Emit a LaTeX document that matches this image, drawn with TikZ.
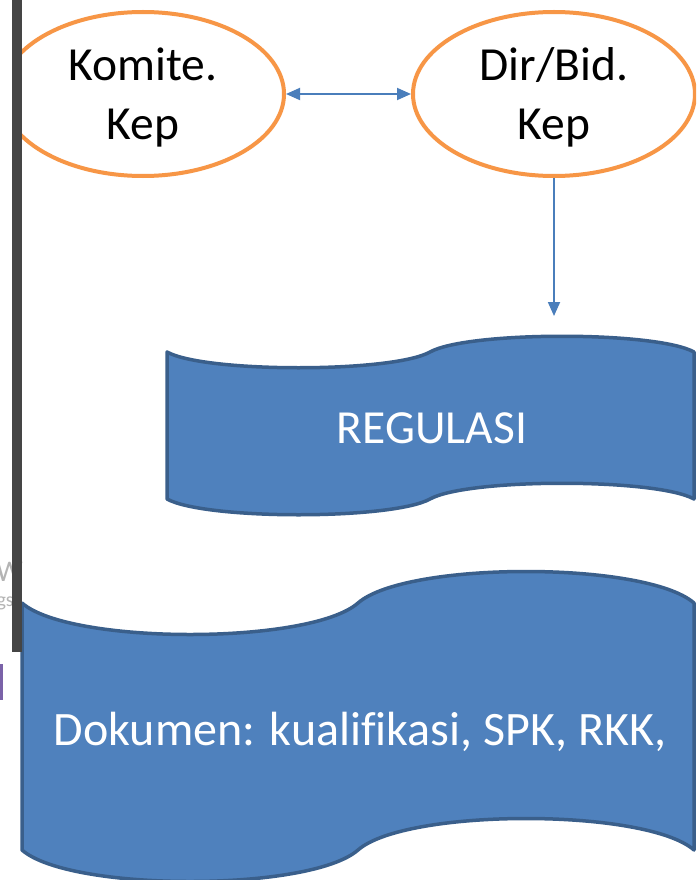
\documentclass[tikz,border=0pt]{standalone}
\usepackage{fontspec}
\setmainfont{Carlito}[Ligatures=NoCommon]
\usetikzlibrary{shapes.geometric,arrows.meta}
\definecolor{ringorange}{HTML}{F79646}
\definecolor{linkblue}{HTML}{4A7EBB}
\definecolor{wavefill}{HTML}{4F81BD}
\definecolor{waveedge}{HTML}{3A5F8B}
\definecolor{sidebar}{HTML}{454545}
\definecolor{ghost}{HTML}{B4B4B4}
\definecolor{tilepurple}{HTML}{7A62A8}
\begin{document}
\begin{tikzpicture}[x=1pt,y=-1pt,
  role/.style={ellipse,draw=ringorange,line width=4pt,fill=white,
    minimum width=282pt,minimum height=164pt,inner sep=0pt},
  roletext/.style={align=center,inner sep=0pt,text=black,
    font=\fontsize{47.5}{59}\selectfont},
  link/.style={draw=linkblue,line width=1.8pt,
    arrows={-Triangle[length=14pt,width=12pt]}},
  banner/.style={fill=wavefill,draw=waveedge,line width=3.5pt,line join=round},
  bannertext/.style={text=white,inner sep=0pt}]
\useasboundingbox (0,0) rectangle (696,880);
\fill[white] (0,0) rectangle (696,880);

% faint remnants at the left edge
\node[ghost,anchor=west,font=\fontsize{30}{30}\selectfont,inner sep=0pt] (wtxt) at (-4,572) {W};
\node[ghost,anchor=east,font=\fontsize{20}{20}\selectfont,inner sep=0pt] (ngstxt) at (14,603) {ngs};
\fill[tilepurple] (0,664) rectangle (3,700);

% the two role ellipses, cut at the bar
\begin{scope}
  \clip (22,0) rectangle (696,880);
  \node[role] (komite) at (143,94) {};
  \node[role] (dirbid) at (554,94) {};
\end{scope}
\node[roletext] (komitetext) at (143,97) {Komite.\\Kep};
\node[roletext] (dirbidtext) at (554,97) {Dir/Bid.\\Kep};

% connectors
\draw[link,arrows={Triangle[length=14pt,width=12pt]-Triangle[length=14pt,width=12pt]}] (komite.east) -- (dirbid.west);
\coordinate (regtop) at (554,316);
\draw[link] (dirbid.south) -- (regtop);

% REGULASI banner
\draw[banner] (167,352)
  .. controls (205,373) and (392,373) .. (430,352)
  .. controls (468,331) and (656,331) .. (694,352)
  -- (694,499)
  .. controls (656,478) and (468,478) .. (430,499)
  .. controls (392,520) and (205,520) .. (167,499) -- cycle;
\node[bannertext,font=\fontsize{47.5}{56}\selectfont] (regulasi) at (432,428) {REGULASI};

% Dokumen banner
\draw[banner] (22,603)
  .. controls (70,645) and (310,645) .. (358,603)
  .. controls (406,561) and (646,561) .. (694,603)
  -- (694,850)
  .. controls (646,808) and (406,808) .. (358,850)
  .. controls (310,892) and (70,892) .. (22,850) -- cycle;
\node[bannertext,font=\fontsize{48}{58}\selectfont] (dokumen) at (360,732) {Dokumen: kualifikasi, SPK, RKK,};

% dark side bar
\fill[sidebar] (12,0) rectangle (22,652);
\end{tikzpicture}
\end{document}
